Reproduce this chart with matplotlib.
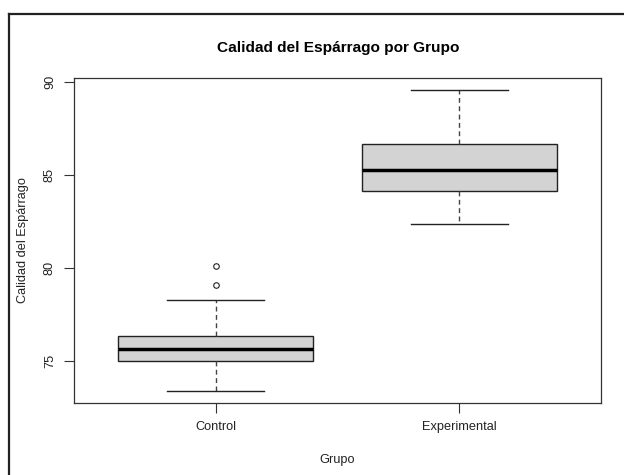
import matplotlib
matplotlib.use('Agg')
import matplotlib.pyplot as plt
from matplotlib.lines import Line2D

plt.rcParams['font.family'] = ['Liberation Sans', 'DejaVu Sans']

# Box statistics (R-style boxplot)
groups = ['Control', 'Experimental']
whisker_low = [73.39, 82.35]
q1 = [75.0, 84.12]
medians = [75.66, 85.27]
q3 = [76.36, 86.65]
whisker_high = [78.26, 89.55]
outliers = [[79.09, 80.12], []]
y_ticks = [75, 80, 85, 90]

stats = []
for i, name in enumerate(groups):
    stats.append({
        'label': name,
        'whislo': whisker_low[i],
        'q1': q1[i],
        'med': medians[i],
        'q3': q3[i],
        'whishi': whisker_high[i],
        'fliers': outliers[i],
    })

fig = plt.figure(figsize=(6.24, 4.75), dpi=100)
ax = fig.add_axes([74 / 624, 1 - 403 / 475, (601 - 74) / 624, (403 - 78) / 475])

ax.bxp(stats, positions=[1, 2], widths=0.8, patch_artist=True,
       boxprops=dict(facecolor='#d3d3d3', edgecolor='#222222', linewidth=1.0),
       medianprops=dict(color='black', linewidth=2.5),
       whiskerprops=dict(color='#444444', linewidth=1.0, linestyle=(0, (3.5, 2.5))),
       capprops=dict(color='#222222', linewidth=1.0),
       flierprops=dict(marker='o', markersize=4, markerfacecolor='none',
                       markeredgecolor='#222222', markeredgewidth=0.8),
       capwidths=0.4)

# R pads xlim c(0.5, 2.5) by 4% on each side
ax.set_xlim(0.42, 2.58)
ax.set_ylim(72.74, 90.21)
ax.set_yticks(y_ticks)
ax.set_yticklabels([str(t) for t in y_ticks], rotation=90, va='center')
ax.set_xticks([1, 2])
ax.set_xticklabels(groups)
ax.tick_params(direction='out', length=7, width=0.8, color='#333333',
               labelsize=9.2, labelcolor='#222222', pad=6)
for s in ax.spines.values():
    s.set_linewidth(0.9)
    s.set_color('#333333')

fig.text(338 / 624, 1 - 48 / 475, 'Calidad del Espárrago por Grupo',
         fontsize=11.1, fontweight='bold', ha='center', va='center')
ax.set_xlabel('Grupo', fontsize=9.2, labelpad=15, color='#222222')
ax.set_ylabel('Calidad del Espárrago', fontsize=9.2, labelpad=11, color='#222222')

# screenshot frame (top and left border)
fig.add_artist(Line2D([9 / 624, 1], [1 - 14 / 475, 1 - 14 / 475],
                      transform=fig.transFigure, color='#222222', linewidth=1.6))
fig.add_artist(Line2D([9 / 624, 9 / 624], [0, 1 - 14 / 475],
                      transform=fig.transFigure, color='#222222', linewidth=1.6))

fig.savefig('out.png', dpi=100)
